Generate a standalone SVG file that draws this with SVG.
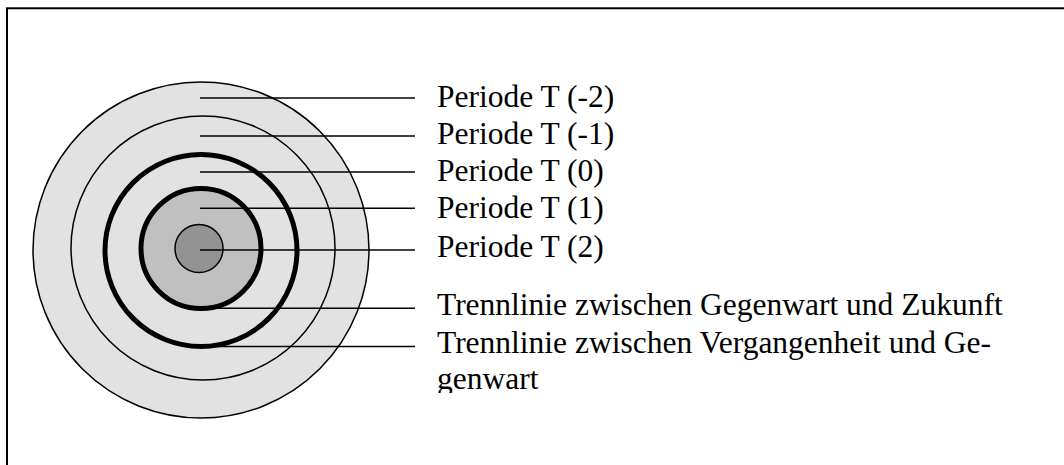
<svg xmlns="http://www.w3.org/2000/svg" width="1064" height="465" viewBox="0 0 1064 465">
  <style>
    .ring { stroke: #000; stroke-width: 1.5; }
    .thick { stroke: #000; stroke-width: 5; fill: none; }
    .lead { stroke: #000; stroke-width: 1.5; fill: none; }
    .lbl { font-family: "Liberation Serif", "Times New Roman", serif; font-size: 31.5px; fill: #000; }
  </style>
  <defs>
    <clipPath id="textclip">
      <rect x="420" y="0" width="644" height="393"/>
    </clipPath>
  </defs>
  <rect x="0" y="0" width="1064" height="465" fill="#fff"/>
  <rect id="frame" x="7" y="8.3" width="1100" height="500" fill="#fff" stroke="#000" stroke-width="2"/>

  <g id="rings">
    <g id="ring-minus2"><circle class="ring" cx="201" cy="250" r="168" fill="#e2e2e2"/></g>
    <g id="ring-minus1"><circle class="ring" cx="203" cy="248" r="132" fill="none"/></g>
    <g id="ring-0"><circle class="thick" cx="201" cy="250.5" r="96"/></g>
    <g id="ring-1"><circle class="thick" cx="201" cy="248.5" r="60" fill="#c0c0c0" style="fill:#c0c0c0"/></g>
    <g id="ring-2"><circle class="ring" cx="199" cy="248.5" r="24" fill="#939393"/></g>
  </g>

  <g id="connectors">
    <line class="lead" x1="200" y1="98" x2="415" y2="98"/>
    <line class="lead" x1="200" y1="136" x2="415" y2="136"/>
    <line class="lead" x1="200" y1="172" x2="415" y2="172"/>
    <line class="lead" x1="200" y1="208.3" x2="415" y2="208.3"/>
    <line class="lead" x1="200" y1="250" x2="415" y2="250"/>
    <line class="lead" x1="200" y1="308.3" x2="415" y2="308.3"/>
    <line class="lead" x1="200" y1="346.5" x2="415" y2="346.5"/>
  </g>

  <g id="labels" clip-path="url(#textclip)">
    <g id="label-minus2"><text class="lbl" x="437" y="107">Periode T (-2)</text></g>
    <g id="label-minus1"><text class="lbl" x="437" y="144">Periode T (-1)</text></g>
    <g id="label-0"><text class="lbl" x="437" y="181">Periode T (0)</text></g>
    <g id="label-1"><text class="lbl" x="437" y="218">Periode T (1)</text></g>
    <g id="label-2"><text class="lbl" x="437" y="257">Periode T (2)</text></g>
    <g id="label-zukunft"><text class="lbl" x="437" y="315">Trennlinie zwischen Gegenwart und Zukunft</text></g>
    <g id="label-vergangenheit">
      <text class="lbl" x="437" y="352.5">Trennlinie zwischen Vergangenheit und Ge-</text>
      <text class="lbl" x="437" y="389">genwart</text>
    </g>
  </g>
</svg>
